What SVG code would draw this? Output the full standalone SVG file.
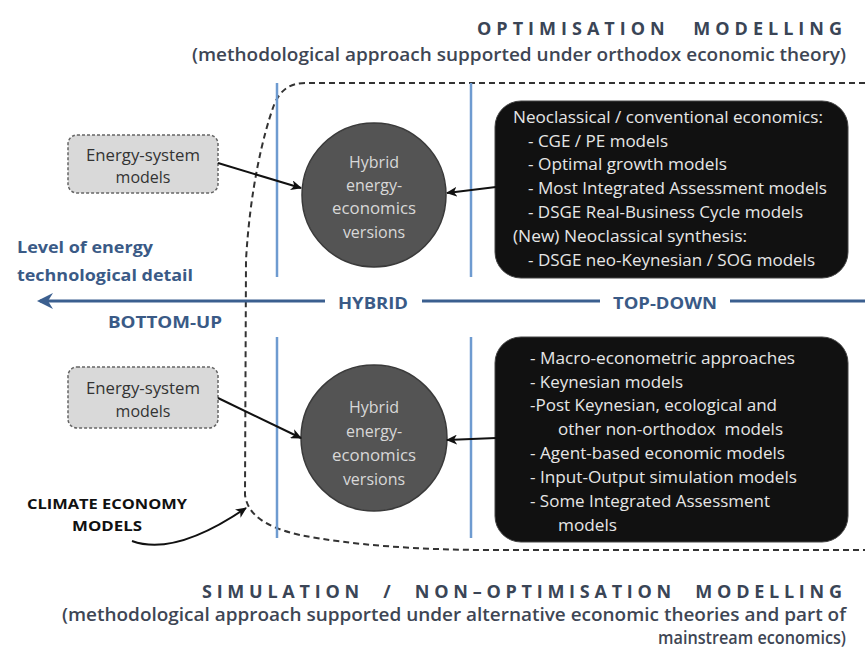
<svg xmlns="http://www.w3.org/2000/svg" width="865" height="651" viewBox="0 0 865 651">
<defs>
<style>
text{font-family:"Open Sans","Liberation Sans",sans-serif}
.title{font-size:18px;font-weight:bold;fill:#3a4556;letter-spacing:4px}
.sub{font-size:18px;font-weight:600;fill:#3e4654}
.box{font-size:16px;fill:#e6e6e6}
.circ{font-size:16px;fill:#d8d8d8;text-anchor:middle}
.es{font-size:16px;fill:#333;text-anchor:middle}
.axis{font-size:16px;font-weight:bold;fill:#3a5a86}
.cem{font-size:15px;font-weight:bold;fill:#111;text-anchor:middle}
.blue{stroke:#6e9bd0;stroke-width:2.5;fill:none}
.conn{stroke:#111;stroke-width:2;fill:none;marker-end:url(#ah)}
</style>
<marker id="ah" markerWidth="12" markerHeight="10" refX="10" refY="5" orient="auto" markerUnits="userSpaceOnUse">
<path d="M0,0 L11,5 L0,10 L3,5 Z" fill="#111"/>
</marker>
</defs>
<rect width="865" height="651" fill="#fff"/>

<g id="titles">
<text class="title" x="846" y="35" text-anchor="end" textLength="369" lengthAdjust="spacing" word-spacing="14">OPTIMISATION MODELLING</text>
<text class="sub" x="846" y="61" text-anchor="end" textLength="654" lengthAdjust="spacingAndGlyphs">(methodological approach supported under orthodox economic theory)</text>
<text class="title" x="846" y="598" text-anchor="end" textLength="644" lengthAdjust="spacing" word-spacing="10">SIMULATION / NON–OPTIMISATION MODELLING</text>
<text class="sub" x="846" y="621" text-anchor="end" textLength="784" lengthAdjust="spacingAndGlyphs">(methodological approach supported under alternative economic theories and part of</text>
<text class="sub" x="846" y="644" text-anchor="end" textLength="188" lengthAdjust="spacingAndGlyphs">mainstream economics)</text>
</g>

<g id="boundary">
<path d="M865,83 H305 C290,83 280,90 274,105 C263,135 250,190 246,260 L245,495 C248,515 265,527 300,535 C350,545 420,550 490,550 H865" fill="none" stroke="#333" stroke-width="2" stroke-dasharray="6 4"/>
</g>

<g id="dividers">
<line class="blue" x1="277" y1="83" x2="277" y2="277"/>
<line class="blue" x1="471" y1="83" x2="471" y2="277"/>
<line class="blue" x1="277" y1="337" x2="277" y2="538"/>
<line class="blue" x1="471" y1="337" x2="471" y2="538"/>
</g>

<g id="axis">
<path d="M865,301 H730 M600,301 H422 M325,301 H40" fill="none" stroke="#3b5f8f" stroke-width="3"/>
<path d="M53,293 L37,301 L53,309 L48,301 Z" fill="#3b5f8f"/>
<text class="axis" x="338" y="309" textLength="70" lengthAdjust="spacingAndGlyphs">HYBRID</text>
<text class="axis" x="613" y="309" textLength="104" lengthAdjust="spacingAndGlyphs">TOP-DOWN</text>
<text class="axis" x="108" y="328" textLength="114" lengthAdjust="spacingAndGlyphs">BOTTOM-UP</text>
<text class="axis" x="17" y="253" font-size="17" textLength="136" lengthAdjust="spacingAndGlyphs">Level of energy</text>
<text class="axis" x="17" y="281" font-size="17" textLength="176" lengthAdjust="spacingAndGlyphs">technological detail</text>
</g>

<g id="es-top">
<rect x="68" y="135" width="150" height="58" rx="9" fill="#d9d9d9" stroke="#666" stroke-width="1.5" stroke-dasharray="3 2"/>
<text class="es" x="143" y="161" textLength="114" lengthAdjust="spacingAndGlyphs">Energy-system</text>
<text class="es" x="143" y="183">models</text>
</g>

<g id="es-bottom">
<rect x="68" y="367" width="150" height="61" rx="9" fill="#d9d9d9" stroke="#666" stroke-width="1.5" stroke-dasharray="3 2"/>
<text class="es" x="143" y="394" textLength="114" lengthAdjust="spacingAndGlyphs">Energy-system</text>
<text class="es" x="143" y="417">models</text>
</g>

<g id="hybrid-top">
<circle cx="374" cy="195" r="72" fill="#545454" stroke="#3a3a3a" stroke-width="1.5"/>
<text class="circ" x="374" y="168">Hybrid</text>
<text class="circ" x="374" y="191">energy-</text>
<text class="circ" x="374" y="214" textLength="84" lengthAdjust="spacingAndGlyphs">economics</text>
<text class="circ" x="374" y="238">versions</text>
</g>

<g id="hybrid-bottom">
<circle cx="374" cy="438" r="73" fill="#545454" stroke="#3a3a3a" stroke-width="1.5"/>
<text class="circ" x="374" y="413">Hybrid</text>
<text class="circ" x="374" y="437">energy-</text>
<text class="circ" x="374" y="461" textLength="84" lengthAdjust="spacingAndGlyphs">economics</text>
<text class="circ" x="374" y="485">versions</text>
</g>

<g id="topdown-opt">
<rect x="495" y="101" width="353" height="177" rx="26" fill="#111" stroke="#444" stroke-width="1"/>
<text class="box" x="513" y="123" textLength="310" lengthAdjust="spacingAndGlyphs">Neoclassical / conventional economics:</text>
<text class="box" x="528" y="147" textLength="140" lengthAdjust="spacingAndGlyphs">- CGE / PE models</text>
<text class="box" x="528" y="170" textLength="199" lengthAdjust="spacingAndGlyphs">- Optimal growth models</text>
<text class="box" x="528" y="194" textLength="299" lengthAdjust="spacingAndGlyphs">- Most Integrated Assessment models</text>
<text class="box" x="528" y="218" textLength="275" lengthAdjust="spacingAndGlyphs">- DSGE Real-Business Cycle models</text>
<text class="box" x="513" y="242" textLength="234" lengthAdjust="spacingAndGlyphs">(New) Neoclassical synthesis:</text>
<text class="box" x="528" y="266" textLength="287" lengthAdjust="spacingAndGlyphs">- DSGE neo-Keynesian / SOG models</text>
</g>

<g id="topdown-sim">
<rect x="495" y="337" width="353" height="205" rx="26" fill="#111" stroke="#444" stroke-width="1"/>
<text class="box" x="530" y="364" textLength="265" lengthAdjust="spacingAndGlyphs">- Macro-econometric approaches</text>
<text class="box" x="530" y="388" textLength="153" lengthAdjust="spacingAndGlyphs">- Keynesian models</text>
<text class="box" x="530" y="411" textLength="247" lengthAdjust="spacingAndGlyphs">-Post Keynesian, ecological and</text>
<text class="box" x="558" y="435" textLength="225" lengthAdjust="spacingAndGlyphs" xml:space="preserve">other non-orthodox  models</text>
<text class="box" x="530" y="459" textLength="255" lengthAdjust="spacingAndGlyphs">- Agent-based economic models</text>
<text class="box" x="530" y="483" textLength="267" lengthAdjust="spacingAndGlyphs">- Input-Output simulation models</text>
<text class="box" x="530" y="507" textLength="240" lengthAdjust="spacingAndGlyphs">- Some Integrated Assessment</text>
<text class="box" x="558" y="531" textLength="59" lengthAdjust="spacingAndGlyphs">models</text>
</g>

<g id="climate-label">
<text class="cem" x="107" y="509" textLength="160" lengthAdjust="spacingAndGlyphs">CLIMATE ECONOMY</text>
<text class="cem" x="107" y="531" textLength="70" lengthAdjust="spacingAndGlyphs">MODELS</text>
</g>

<g id="connectors">
<path class="conn" d="M218,163 L301,188"/>
<path class="conn" d="M496,187 L447,193"/>
<path class="conn" d="M218,398 L301,438"/>
<path class="conn" d="M496,438 L447,440"/>
<path class="conn" d="M132,541 C165,553 205,536 246,508" stroke-width="2.5"/>
</g>
</svg>
